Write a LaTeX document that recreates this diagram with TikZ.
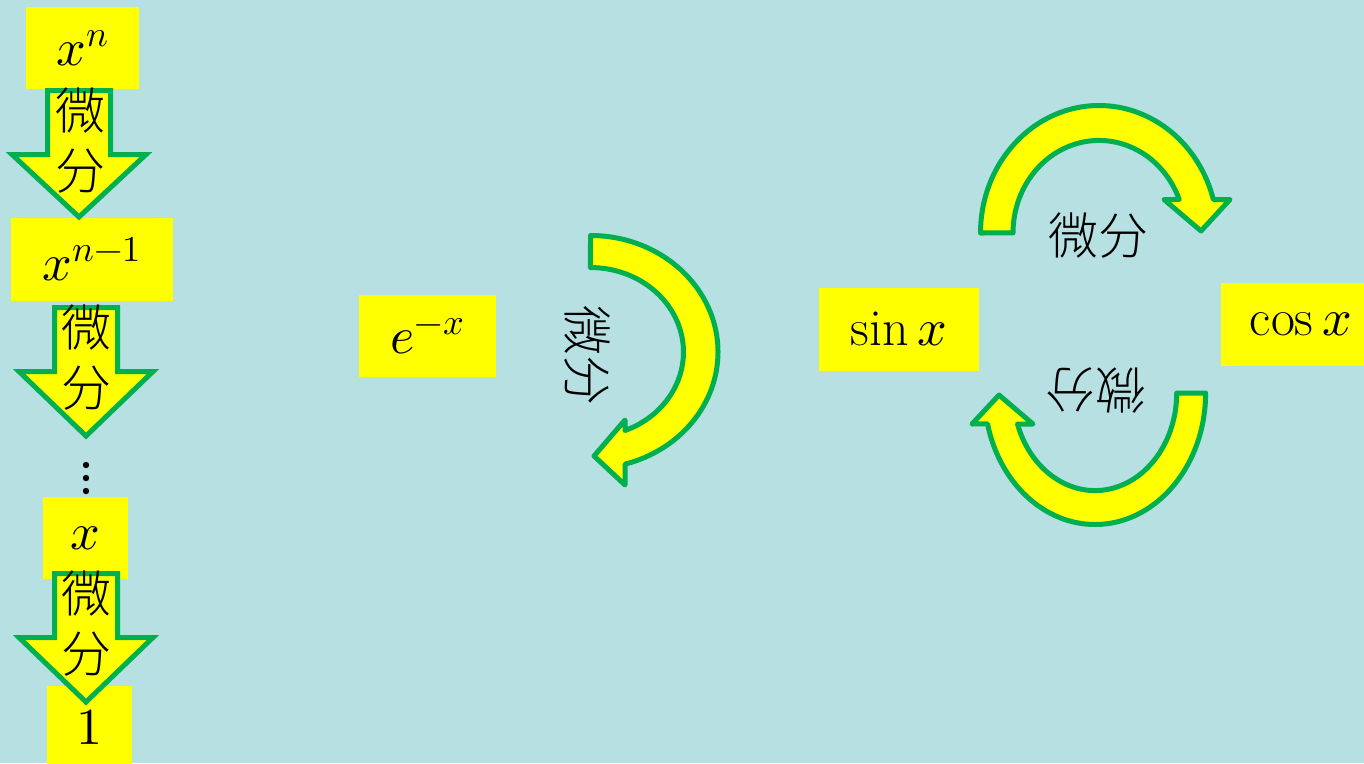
\documentclass[tikz,border=0pt]{standalone}
\usepackage{fontspec}
\usepackage{unicode-math}
\setmathfont{Latin Modern Math}
\newfontfamily\cjk{Noto Sans CJK SC}[UprightFont={* Light}]
\definecolor{bg}{RGB}{183,224,226}
\definecolor{arrowgreen}{RGB}{0,176,80}
\definecolor{boxyellow}{RGB}{255,255,0}

% straight block arrow pointing down: centre x, top y, wing y, tip y
\newcommand\downblock[4]{%
  \draw[blockarrow] ({#1-31.5},{-#2}) -- ({#1+31.5},{-#2}) -- ({#1+31.5},{-#3})
    -- ({#1+67},{-#3}) -- ({#1},{-#4}) -- ({#1-67},{-#3}) -- ({#1-31.5},{-#3}) -- cycle;}

\begin{document}
\begin{tikzpicture}[x=1pt,y=1pt,
  valbox/.style={fill=boxyellow, inner sep=0pt, font=\fontsize{52}{60}\selectfont},
  blockarrow/.style={fill=boxyellow, draw=arrowgreen, line width=5pt, line join=miter},
  bentarrow/.style={fill=boxyellow, draw=arrowgreen, line width=5pt, line join=round},
  difflabel/.style={font=\cjk\fontsize{50}{60}\selectfont, inner sep=0pt, align=center},
]
\useasboundingbox (0,0) rectangle (1364,-763);
\fill[bg] (0,0) rectangle (1364,-763);

% ---- chain of powers on the left ----
\node[valbox, minimum width=113pt, minimum height=82pt] (xn)  at (82.5,-48)  {$x^{n}$};
\node[valbox, minimum width=162pt, minimum height=83pt] (xn1) at (92,-259.5) {$x^{n-1}$};
\node[valbox, minimum width=85pt,  minimum height=82pt] (x1)  at (85.5,-538) {$x$};
\node[valbox, minimum width=85pt,  minimum height=82pt] (one) at (89.5,-727) {$1$};

\downblock{79}{90.5}{154.5}{217}
\downblock{86}{307.5}{371.5}{436}
\downblock{86}{573.5}{637.5}{702}

\node[difflabel] (d1) at (80,-141) {微\\分};
\node[difflabel] (d2) at (86,-358) {微\\分};
\node[difflabel] (d3) at (86,-624) {微\\分};

\foreach \yy in {465,478,491} \fill (86,-\yy) circle (3.2pt);

% ---- exponential ----
\node[valbox, minimum width=137pt, minimum height=82pt] (emx) at (427.5,-336) {$e^{-x}$};
\draw[bentarrow] (590.5,-235.5) arc[start angle=90, end angle=-74.3, x radius=127.5, y radius=116.5]
  -- (625,-485) -- (594,-456) -- (625,-420) -- (625,-430.5)
  arc[start angle=-68.2, end angle=90, x radius=93, y radius=84.5] -- cycle;
\node[difflabel, rotate=-90] (d4) at (587,-355) {微分};

% ---- sine and cosine ----
\node[valbox, minimum width=160pt, minimum height=83pt] (sin) at (899,-329.5) {$\sin x$};
\node[valbox, minimum width=160pt, minimum height=83pt] (cos) at (1301,-324.5) {$\cos x$};

\draw[bentarrow] (980.5,-233) arc[start angle=180, end angle=15.2, x radius=118.5, y radius=127.5]
  -- (1230,-199.5) -- (1201,-231) -- (1164,-199.5) -- (1179.2,-199.5)
  arc[start angle=21.2, end angle=180, x radius=86, y radius=92.5] -- cycle;
\node[difflabel] (d5) at (1098,-236) {微分};

\draw[bentarrow] (1205.6,-393) arc[start angle=0, end angle=-166.4, x radius=110.6, y radius=131.5]
  -- (972,-424) -- (999,-395) -- (1033,-424) -- (1017.5,-424)
  arc[start angle=-161.5, end angle=0, x radius=81.7, y radius=97.5] -- cycle;
\node[difflabel, rotate=180] (d6) at (1095,-390) {微分};
\end{tikzpicture}
\end{document}
